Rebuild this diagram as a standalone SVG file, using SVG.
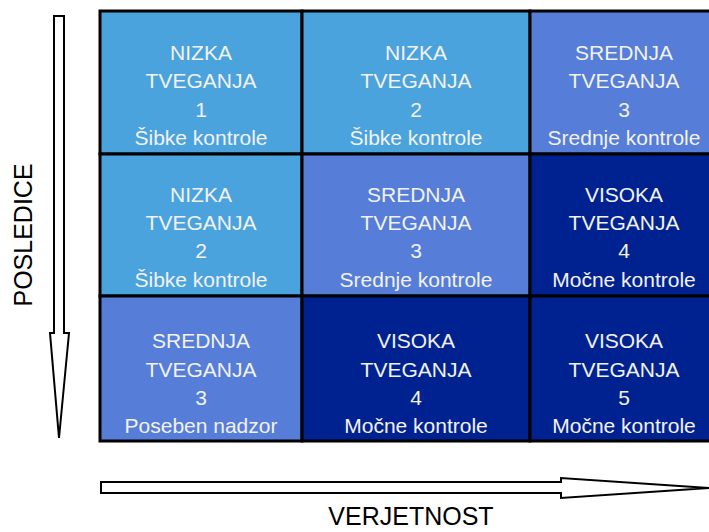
<svg xmlns="http://www.w3.org/2000/svg" width="709" height="532" viewBox="0 0 709 532">
<style>
.c{stroke:#000;stroke-width:3}
.l{fill:#4BA3DE}
.m{fill:#567DD7}
.d{fill:#002290}
.t{font-family:"Liberation Sans",Arial,sans-serif;font-size:21px;fill:#F2F2F2;text-anchor:middle}
.a{fill:#fff;stroke:#000;stroke-width:2}
.lab{font-family:"Liberation Sans",Arial,sans-serif;font-size:25px;fill:#000;text-anchor:middle}
</style>
<rect width="709" height="532" fill="#fff"/>
<g id="connectors">
<polygon class="a" points="54,16 64,16 64,333 69,333 59,438 50,333 54,333"/>
<polygon class="a" points="101,482 561,482 561,478 709,488 561,498 561,493 101,493"/>
</g>
<g id="r1c1"><rect class="c l" x="100" y="11" width="202" height="143"/>
<text class="t" x="201" y="60">NIZKA</text><text class="t" x="201" y="88">TVEGANJA</text><text class="t" x="201" y="117">1</text><text class="t" x="201" y="145">Šibke kontrole</text></g>
<g id="r1c2"><rect class="c l" x="302" y="11" width="228" height="143"/>
<text class="t" x="416" y="60">NIZKA</text><text class="t" x="416" y="88">TVEGANJA</text><text class="t" x="416" y="117">2</text><text class="t" x="416" y="145">Šibke kontrole</text></g>
<g id="r1c3"><rect class="c m" x="530" y="11" width="190" height="143"/>
<text class="t" x="624" y="60">SREDNJA</text><text class="t" x="624" y="88">TVEGANJA</text><text class="t" x="624" y="117">3</text><text class="t" x="624" y="145">Srednje kontrole</text></g>
<g id="r2c1"><rect class="c l" x="100" y="154" width="202" height="142"/>
<text class="t" x="201" y="202">NIZKA</text><text class="t" x="201" y="230">TVEGANJA</text><text class="t" x="201" y="258">2</text><text class="t" x="201" y="287">Šibke kontrole</text></g>
<g id="r2c2"><rect class="c m" x="302" y="154" width="228" height="142"/>
<text class="t" x="416" y="202">SREDNJA</text><text class="t" x="416" y="230">TVEGANJA</text><text class="t" x="416" y="258">3</text><text class="t" x="416" y="287">Srednje kontrole</text></g>
<g id="r2c3"><rect class="c d" x="530" y="154" width="190" height="142"/>
<text class="t" x="624" y="202">VISOKA</text><text class="t" x="624" y="230">TVEGANJA</text><text class="t" x="624" y="258">4</text><text class="t" x="624" y="287">Močne kontrole</text></g>
<g id="r3c1"><rect class="c m" x="100" y="296" width="202" height="145"/>
<text class="t" x="201" y="348">SREDNJA</text><text class="t" x="201" y="377">TVEGANJA</text><text class="t" x="201" y="405">3</text><text class="t" x="201" y="433">Poseben nadzor</text></g>
<g id="r3c2"><rect class="c d" x="302" y="296" width="228" height="145"/>
<text class="t" x="416" y="348">VISOKA</text><text class="t" x="416" y="377">TVEGANJA</text><text class="t" x="416" y="405">4</text><text class="t" x="416" y="433">Močne kontrole</text></g>
<g id="r3c3"><rect class="c d" x="530" y="296" width="190" height="145"/>
<text class="t" x="624" y="348">VISOKA</text><text class="t" x="624" y="377">TVEGANJA</text><text class="t" x="624" y="405">5</text><text class="t" x="624" y="433">Močne kontrole</text></g>
<g id="labels">
<text class="lab" transform="translate(32,235) rotate(-90)">POSLEDICE</text>
<text class="lab" x="411" y="525" font-size="24">VERJETNOST</text>
</g>
</svg>
